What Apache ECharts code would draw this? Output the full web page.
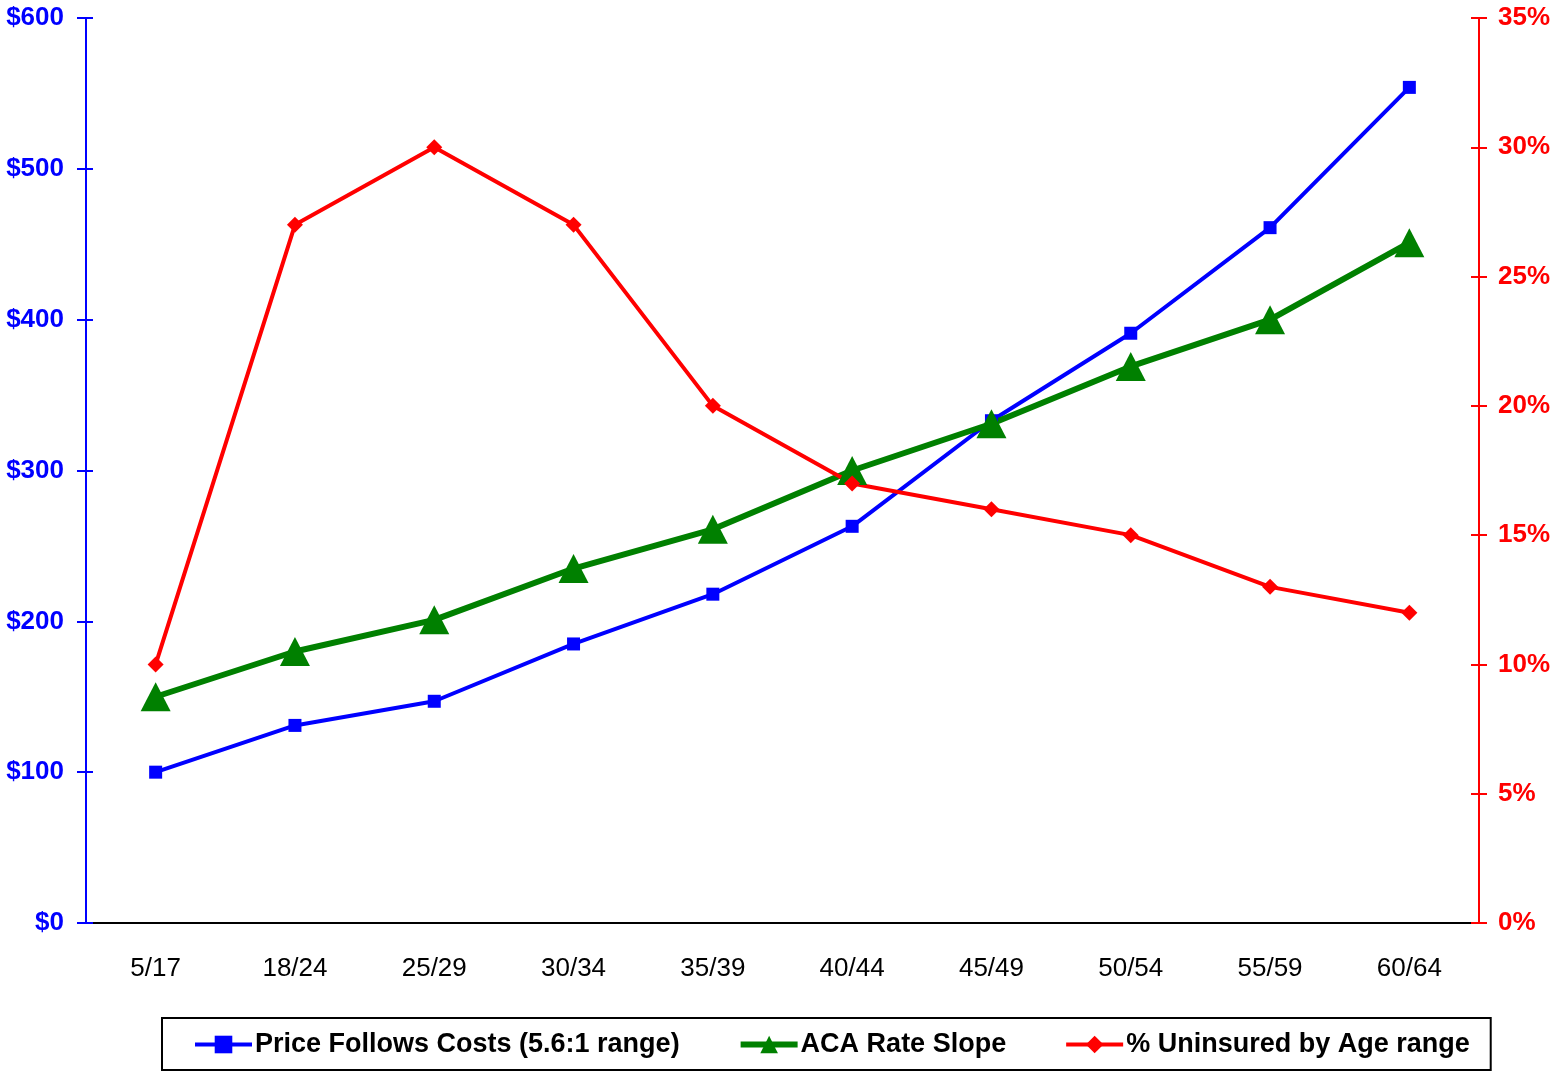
<!DOCTYPE html>
<html>
<head>
<meta charset="utf-8">
<script src="https://cdn.jsdelivr.net/npm/echarts@6/dist/echarts.min.js"></script>
<style>
  html, body { margin: 0; padding: 0; background: #fff; }
  #chart { width: 1555px; height: 1071px; }
</style>
</head>
<body>
<div id="chart"></div>
<script>
var ageBands = ['5/17', '18/24', '25/29', '30/34', '35/39', '40/44', '45/49', '50/54', '55/59', '60/64'];
var priceFollowsCosts = [100, 131, 147, 185, 218, 263, 333, 391, 461, 554];
var acaRateSlope = [150, 180, 201, 235, 261, 300, 331, 369, 400, 451];
var uninsuredPct = [10, 27, 30, 27, 20, 17, 16, 15, 13, 12];

var font = "'Liberation Sans', Arial, sans-serif";

var chart = echarts.init(document.getElementById('chart'));

var option = {
  animation: false,
  backgroundColor: '#fff',
  grid: { left: 86, right: 76, top: 18, bottom: 148, outerBoundsMode: 'none' },
  legend: {
    left: 162,
    top: 1018,
    padding: [13, 21, 12, 31],
    borderColor: '#000',
    borderWidth: 2,
    itemWidth: 57,
    itemHeight: 22,
    itemGap: 58,
    textStyle: { fontFamily: font, fontSize: 27, fontWeight: 'bold', color: '#000', padding: [2, 0, 0, -2] },
    data: [
      { name: 'Price Follows Costs (5.6:1 range)', lineStyle: { width: 4 } },
      { name: 'ACA Rate Slope', lineStyle: { width: 6 } },
      { name: '% Uninsured by Age range', lineStyle: { width: 4 } }
    ]
  },
  xAxis: [{
    type: 'category',
    data: ageBands,
    boundaryGap: true,
    axisLine: { lineStyle: { color: '#000', width: 2 } },
    axisTick: { length: 10, lineStyle: { color: '#000', width: 2 } },
    axisLabel: { fontFamily: font, fontSize: 26, color: '#000', margin: 33 }
  }, {
    type: 'category',
    data: ageBands,
    position: 'bottom',
    boundaryGap: true,
    axisLine: { show: false },
    axisTick: { inside: true, length: 7, lineStyle: { color: '#000', width: 2 } },
    axisLabel: { show: false }
  }],
  yAxis: [{
    type: 'value',
    min: 0, max: 600, interval: 100,
    position: 'left',
    axisLine: { show: true, lineStyle: { color: '#0000FF', width: 2 } },
    axisTick: { show: true, length: 9, lineStyle: { color: '#0000FF', width: 2 } },
    splitLine: { show: false },
    axisLabel: { fontFamily: font, fontSize: 26, fontWeight: 'bold', color: '#0000FF', margin: 22, formatter: '${value}' }
  }, {
    type: 'value',
    min: 0, max: 35, interval: 5,
    position: 'right',
    axisLine: { show: true, lineStyle: { color: '#FF0000', width: 2 } },
    axisTick: { show: true, length: 8, lineStyle: { color: '#FF0000', width: 2 } },
    splitLine: { show: false },
    axisLabel: { fontFamily: font, fontSize: 26, fontWeight: 'bold', color: '#FF0000', margin: 19, formatter: '{value}%' }
  }, {
    type: 'value',
    min: 0, max: 600, interval: 100,
    position: 'left',
    axisLine: { show: false },
    axisTick: { show: true, inside: true, length: 7, lineStyle: { color: '#0000FF', width: 2 } },
    splitLine: { show: false },
    axisLabel: { show: false }
  }, {
    type: 'value',
    min: 0, max: 35, interval: 5,
    position: 'right',
    axisLine: { show: false },
    axisTick: { show: true, inside: true, length: 8, lineStyle: { color: '#FF0000', width: 2 } },
    splitLine: { show: false },
    axisLabel: { show: false }
  }],
  series: [{
    name: 'Price Follows Costs (5.6:1 range)',
    type: 'line',
    yAxisIndex: 0,
    data: priceFollowsCosts,
    color: '#0000FF',
    lineStyle: { width: 4 },
    symbol: 'rect',
    symbolSize: 13,
    itemStyle: { color: '#0000FF' }
  }, {
    name: 'ACA Rate Slope',
    type: 'line',
    yAxisIndex: 0,
    data: acaRateSlope,
    color: '#008000',
    lineStyle: { width: 6 },
    symbol: 'triangle',
    symbolSize: [30, 29],
    itemStyle: { color: '#008000' }
  }, {
    name: '% Uninsured by Age range',
    type: 'line',
    yAxisIndex: 1,
    data: uninsuredPct,
    color: '#FF0000',
    lineStyle: { width: 4 },
    symbol: 'diamond',
    symbolSize: 16,
    itemStyle: { color: '#FF0000' }
  }]
};

chart.setOption(option);
</script>
</body>
</html>
